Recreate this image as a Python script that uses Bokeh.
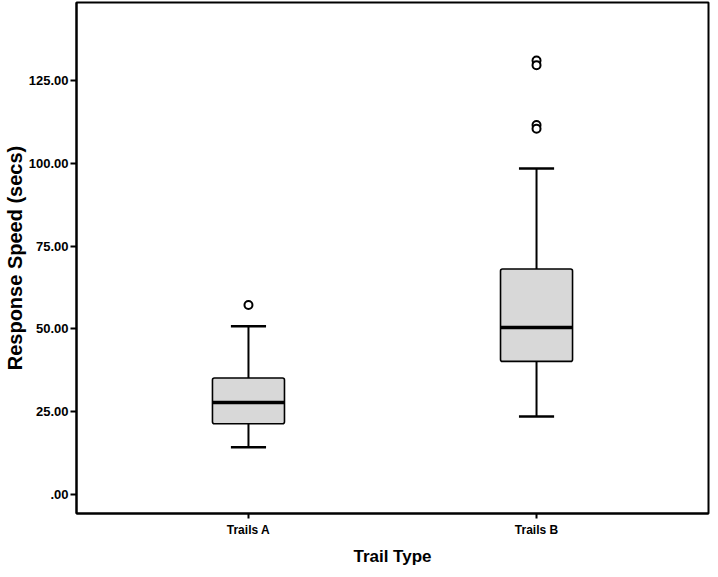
from bokeh.plotting import figure
from bokeh.models import FactorRange, Range1d, FixedTicker, ColumnDataSource
from bokeh.transform import dodge
from bokeh.embed import file_html
from bokeh.resources import INLINE

# ---- data ----
categories = ["Trails A", "Trails B"]
lower_whisker = [14.3, 23.6]
q1 = [21.4, 40.2]
median = [27.8, 50.4]
q3 = [35.2, 68.1]
upper_whisker = [50.8, 98.4]
outlier_cat = ["Trails A", "Trails B", "Trails B", "Trails B", "Trails B"]
outlier_val = [57.2, 131.0, 129.6, 111.5, 110.4]
y_ticks = [0, 25, 50, 75, 100, 125]
y_tick_labels = [".00", "25.00", "50.00", "75.00", "100.00", "125.00"]
x_title = "Trail Type"
y_title = "Response Speed (secs)"

FONT = "Liberation Sans"

src = ColumnDataSource(dict(cat=categories, lo=lower_whisker, q1=q1, med=median,
                            q3=q3, hi=upper_whisker))
osrc = ColumnDataSource(dict(cat=outlier_cat, val=outlier_val))

xr = FactorRange(factors=categories, range_padding=0.097, range_padding_units="absolute")
p = figure(x_range=xr, y_range=Range1d(-5.7, 148.5),
           frame_width=632, frame_height=511,
           output_backend="svg", toolbar_location=None,
           min_border_left=76, min_border_right=2, min_border_top=2, min_border_bottom=56)

p.background_fill_color = "white"
p.border_fill_color = "white"
p.outline_line_color = "black"
p.outline_line_width = 2
p.xgrid.visible = False
p.ygrid.visible = False

# whiskers
p.segment(x0="cat", x1="cat", y0="q3", y1="hi", source=src, line_color="black", line_width=2)
p.segment(x0="cat", x1="cat", y0="lo", y1="q1", source=src, line_color="black", line_width=2)
# caps
p.segment(x0=dodge("cat", -0.061, range=xr), x1=dodge("cat", 0.061, range=xr),
          y0="hi", y1="hi", source=src, line_color="black", line_width=2.5)
p.segment(x0=dodge("cat", -0.061, range=xr), x1=dodge("cat", 0.061, range=xr),
          y0="lo", y1="lo", source=src, line_color="black", line_width=2.5)
# boxes
p.vbar(x="cat", width=0.25, bottom="q1", top="q3", source=src,
       fill_color="#d8d8d8", line_color="black", line_width=1.6, border_radius=2)
# medians
p.segment(x0=dodge("cat", -0.125, range=xr), x1=dodge("cat", 0.125, range=xr),
          y0="med", y1="med", source=src, line_color="black", line_width=3.5)
# outliers
p.scatter(x="cat", y="val", source=osrc, marker="circle", size=8,
          fill_color="white", line_color="black", line_width=2)

# axes
p.yaxis.ticker = FixedTicker(ticks=y_ticks)
p.yaxis.major_label_overrides = {t: l for t, l in zip(y_ticks, y_tick_labels)}
p.yaxis.minor_tick_line_color = None
p.yaxis.major_tick_in = 0
p.yaxis.major_tick_out = 6
p.yaxis.major_tick_line_width = 2
p.yaxis.axis_line_width = 2
p.yaxis.major_label_standoff = 2
p.yaxis.major_label_text_font = FONT
p.yaxis.major_label_text_font_style = "bold"
p.yaxis.major_label_text_font_size = "13px"
p.yaxis.major_label_text_color = "black"
p.yaxis.axis_label = y_title
p.yaxis.axis_label_text_font = FONT
p.yaxis.axis_label_text_font_style = "bold"
p.yaxis.axis_label_text_font_size = "20px"
p.yaxis.axis_label_text_color = "black"
p.yaxis.axis_label_standoff = 0

p.xaxis.major_tick_in = 0
p.xaxis.major_tick_out = 5
p.xaxis.major_tick_line_width = 2
p.xaxis.axis_line_width = 2
p.xaxis.major_label_standoff = 4
p.xaxis.major_label_text_font = FONT
p.xaxis.major_label_text_font_style = "bold"
p.xaxis.major_label_text_font_size = "12px"
p.xaxis.major_label_text_color = "black"
p.xaxis.axis_label = x_title
p.xaxis.axis_label_text_font = FONT
p.xaxis.axis_label_text_font_style = "bold"
p.xaxis.axis_label_text_font_size = "17px"
p.xaxis.axis_label_text_color = "black"
p.xaxis.axis_label_standoff = 7

open("out.html", "w").write(file_html(p, INLINE))
